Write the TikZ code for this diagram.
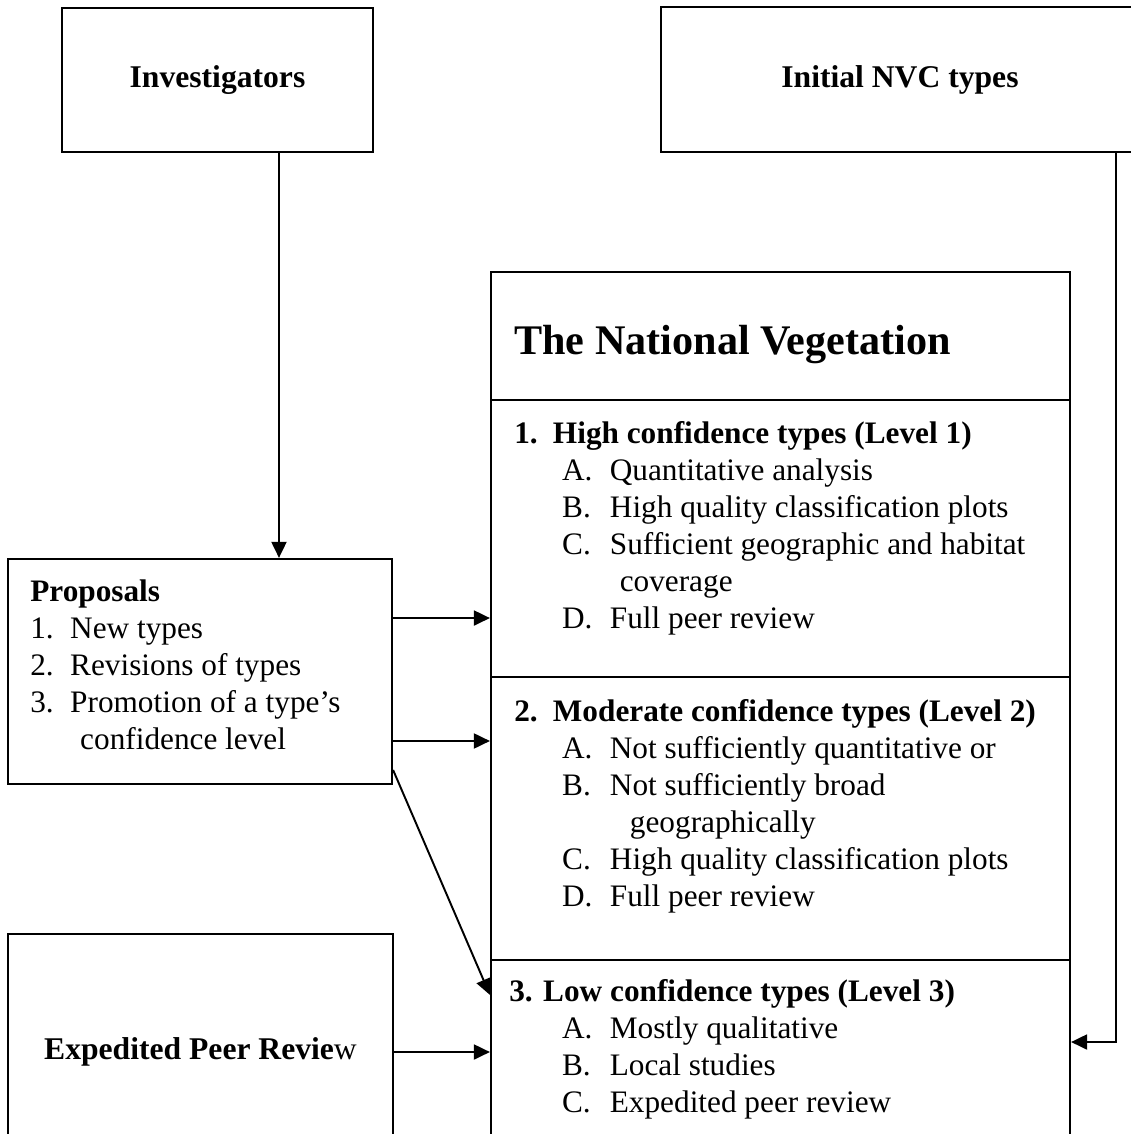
\documentclass[tikz,border=0pt]{standalone}
\usepackage{fontspec}
\setmainfont{Liberation Serif}
\usetikzlibrary{arrows.meta}
\tikzset{
  box/.style = {rectangle, draw, line width=1.3pt, inner sep=0pt, font=\bfseries\fontsize{18}{21}\selectfont},
  txt/.style = {inner sep=0pt, align=left, anchor=base west, font=\fontsize{17.8}{21}\selectfont},
  arrow/.style = {-{Triangle[length=0.32cm, width=0.3cm]}, line width=1.1pt}
}
\newcommand{\itm}[3][27.2pt]{\hspace*{#1}\makebox[27.2pt][l]{#2}#3}

\begin{document}
\begin{tikzpicture}[x=0.02cm, y=-0.02cm]
\useasboundingbox (0,0) rectangle (1131,1134);
\clip (0,0) rectangle (1131,1134);

% boxes
\node[box, minimum width=6.22cm, minimum height=2.88cm] (inv) at (217.5,80) {Investigators};
\node[box, minimum width=9.56cm, minimum height=2.9cm] (nvc) at (900,79.5) {Initial NVC types};
\node[box, minimum width=7.68cm, minimum height=4.5cm] (prop) at (200,671.5) {};
\node[box, minimum width=7.7cm, minimum height=4.72cm] (exp) at (200.5,1052) {Expedited Peer Revie\mdseries w};

\node[box, minimum width=11.58cm, minimum height=2.56cm] (nv) at (780.5,336) {};
\node[box, minimum width=11.58cm, minimum height=5.54cm] (lvl1) at (780.5,538.5) {};
\node[box, minimum width=11.58cm, minimum height=5.66cm] (lvl2) at (780.5,818.5) {};
\node[box, minimum width=11.58cm, minimum height=4.2cm] (lvl3) at (780.5,1065) {};

% texts (base = last line)
\node[txt, font=\bfseries\fontsize{24}{28}\selectfont] (nvtitle) at (514,354) {The National Vegetation};
\node[txt] (proptxt) at (30,749) {\textbf{Proposals}\\
  \makebox[22.7pt][l]{1.}New types\\
  \makebox[22.7pt][l]{2.}Revisions of types\\
  \makebox[22.7pt][l]{3.}Promotion of a type’s\\
  \hspace*{28.4pt}confidence level};
\node[txt] (lvl1txt) at (514,628) {\textbf{\makebox[22pt][l]{1.}High confidence types (Level 1)}\\
  \itm{A.}{Quantitative analysis}\\
  \itm{B.}{High quality classification plots}\\
  \itm{C.}{Sufficient geographic and habitat}\\
  \hspace*{60pt}coverage\\
  \itm{D.}{Full peer review}};
\node[txt] (lvl2txt) at (514,906) {\textbf{\makebox[22pt][l]{2.}Moderate confidence types (Level 2)}\\
  \itm{A.}{Not sufficiently quantitative or}\\
  \itm{B.}{Not sufficiently broad}\\
  \hspace*{65.8pt}geographically\\
  \itm{C.}{High quality classification plots}\\
  \itm{D.}{Full peer review}};
\node[txt] (lvl3txt) at (509,1112) {\textbf{3. Low confidence types (Level 3)}\\
  \itm[30pt]{A.}{Mostly qualitative}\\
  \itm[30pt]{B.}{Local studies}\\
  \itm[30pt]{C.}{Expedited peer review}};

% connectors
\draw[arrow] ([xshift=1.23cm]inv.south) -- ([xshift=1.23cm]inv.south |- prop.north);
\draw[arrow] ([yshift=1.07cm]prop.east) -- ([yshift=1.07cm]prop.east -| lvl1.west);
\draw[arrow] ([yshift=-1.39cm]prop.east) -- ([yshift=-1.39cm]prop.east -| lvl2.west);
\draw[arrow] ([yshift=-1.97cm]prop.east) -- ([yshift=-0.72cm]lvl3.north west);
\draw[arrow] (exp.east) -- (exp.east -| lvl3.west);
\draw[arrow] ([xshift=4.32cm]nvc.south) |- ([yshift=0.46cm]lvl3.east);
\end{tikzpicture}
\end{document}
